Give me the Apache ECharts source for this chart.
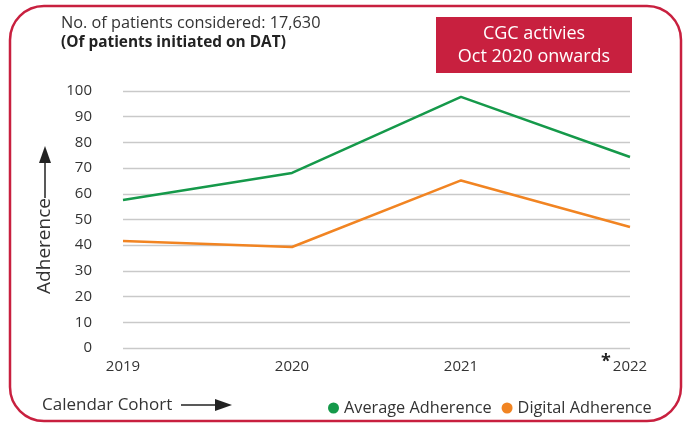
<!DOCTYPE html>
<html><head><meta charset="utf-8">
<script src="https://cdn.jsdelivr.net/npm/echarts@6/dist/echarts.min.js"></script>
<style>html,body{margin:0;padding:0;background:#fff}#c{width:685px;height:423px}</style>
</head><body><div id="c"></div>
<script>
const categories = ['2019', '2020', '2021', '2022'];
const averageAdherence = [57.6, 68.1, 97.7, 74.3];
const digitalAdherence = [41.6, 39.3, 65.2, 47.1];
const yTicks = {min: 0, max: 100, interval: 10};

const FONT = '"Open Sans", "Noto Sans", sans-serif';
const chart = echarts.init(document.getElementById('c'));
chart.setOption({
  animation: false,
  textStyle: {fontFamily: FONT},
  grid: {left: 123, right: 55, top: 91, bottom: 75, containLabel: false},
  xAxis: {
    type: 'category', data: categories, boundaryGap: false,
    axisLine: {show: false}, axisTick: {show: false},
    axisLabel: {color: '#333', fontSize: 15, margin: 11, fontFamily: FONT}
  },
  yAxis: {
    type: 'value', min: yTicks.min, max: yTicks.max, interval: yTicks.interval,
    axisLine: {show: false}, axisTick: {show: false},
    axisLabel: {color: '#333', fontSize: 15, margin: 31, fontFamily: FONT},
    splitLine: {lineStyle: {color: '#c9c9c9', width: 1.3}}
  },
  legend: {
    left: 323, top: 395, itemGap: 10, itemWidth: 11, itemHeight: 11,
    icon: 'circle',
    textStyle: {color: '#333', fontSize: 16.3, fontFamily: FONT},
    data: ['Average Adherence', 'Digital Adherence']
  },
  series: [
    {name: 'Average Adherence', type: 'line', data: averageAdherence, showSymbol: false,
     itemStyle: {color: '#15994a'}, lineStyle: {color: '#15994a', width: 2.5}},
    {name: 'Digital Adherence', type: 'line', data: digitalAdherence, showSymbol: false,
     itemStyle: {color: '#f18422'}, lineStyle: {color: '#f18422', width: 2.5}}
  ],
  graphic: [
    {type: 'rect', shape: {x: 10, y: 6, width: 671, height: 415, r: 34},
     style: {fill: 'none', stroke: '#c8203f', lineWidth: 2.5}, z: -1},
    {type: 'rect', shape: {x: 436, y: 17, width: 196, height: 56},
     style: {fill: '#c8203f'}},
    {type: 'text', x: 534, y: 34, style: {text: 'CGC activies', fill: '#fff', font: '18px ' + FONT, textAlign: 'center', textVerticalAlign: 'middle'}},
    {type: 'text', x: 534, y: 57, style: {text: 'Oct 2020 onwards', fill: '#fff', font: '18px ' + FONT, textAlign: 'center', textVerticalAlign: 'middle'}},
    {type: 'text', x: 61, y: 23, style: {text: 'No. of patients considered: 17,630', fill: '#333', font: '16.3px ' + FONT, textVerticalAlign: 'middle'}},
    {type: 'text', x: 61, y: 43, style: {text: '(Of patients initiated on DAT)', fill: '#222', font: 'bold 15.4px ' + FONT, textVerticalAlign: 'middle'}},
    {type: 'text', x: 45, y: 246, rotation: Math.PI / 2,
     style: {text: 'Adherence', fill: '#333', font: '19px ' + FONT, textAlign: 'center', textVerticalAlign: 'middle'}},
    {type: 'line', shape: {x1: 45, y1: 198, x2: 45, y2: 160}, style: {stroke: '#222', lineWidth: 1.5}},
    {type: 'polygon', shape: {points: [[45, 146], [39, 163], [51, 163]]}, style: {fill: '#222'}},
    {type: 'text', x: 42, y: 405, style: {text: 'Calendar Cohort', fill: '#333', font: '17px ' + FONT, textVerticalAlign: 'middle'}},
    {type: 'line', shape: {x1: 181, y1: 405, x2: 218, y2: 405}, style: {stroke: '#222', lineWidth: 1.5}},
    {type: 'polygon', shape: {points: [[232, 405], [215, 399], [215, 411]]}, style: {fill: '#222'}},
    {type: 'text', x: 606, y: 362, style: {text: '*', fill: '#222', font: 'bold 18px ' + FONT, textAlign: 'center', textVerticalAlign: 'middle'}}
  ]
});
</script></body></html>
